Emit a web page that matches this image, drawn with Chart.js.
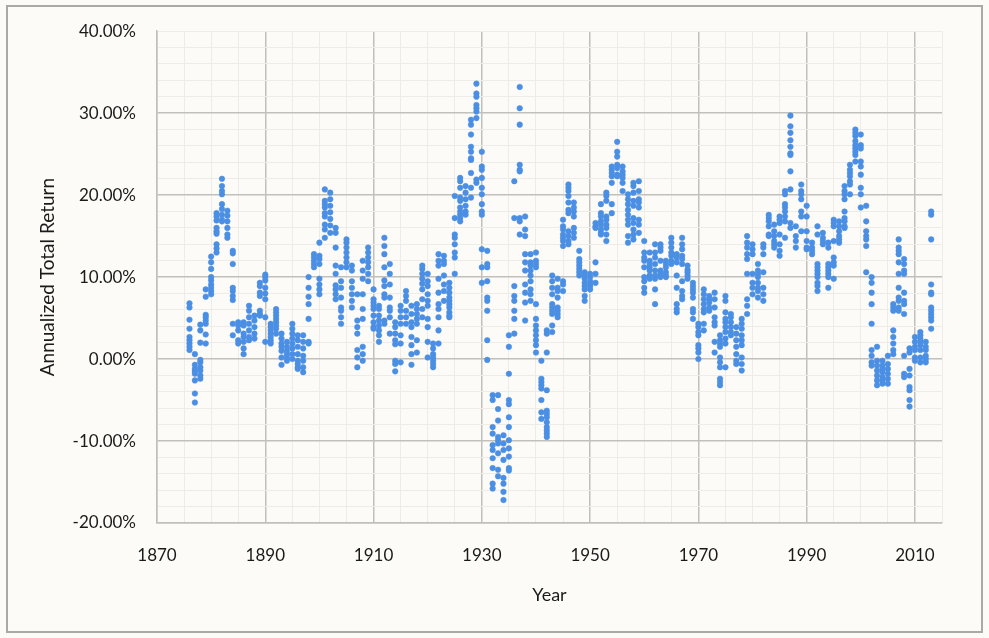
<!DOCTYPE html>
<html>
<head>
<meta charset="utf-8">
<script src="https://cdn.jsdelivr.net/npm/chart.js@4"></script>
<style>
  html, body { margin: 0; padding: 0; background: #fcfbf7; }
  canvas { display: block; }
</style>
</head>
<body>
<canvas id="c" width="989" height="638"></canvas>
<script>
// ---- Data (values in percent) ----
const years = [1876,1877,1878,1879,1880,1881,1882,1883,1884,1885,1886,1887,1888,1889,1890,
1891,1892,1893,1894,1895,1896,1897,1898,1899,1900,1901,1902,1903,1904,1905,1906,1907,1908,1909,
1910,1911,1912,1913,1914,1915,1916,1917,1918,1919,1920,1921,1922,1923,1924,1925,1926,1927,1928,1929,
1930,1931,1932,1933,1934,1935,1936,1937,1938,1939,1940,1941,1942,1943,1944,1945,1946,1947,1948,1949,
1950,1951,1952,1953,1954,1955,1956,1957,1958,1959,1960,1961,1962,1963,1964,1965,1966,1967,1968,1969,
1970,1971,1972,1973,1974,1975,1976,1977,1978,1979,1980,1981,1982,1983,1984,1985,1986,1987,1988,1989,
1990,1991,1992,1993,1994,1995,1996,1997,1998,1999,2000,2001,2002,2003,2004,2005,2006,2007,2008,2009,
2010,2011,2012,2013];

const returns = [
[6.8,6.3,4.8,3.7,2.7,2.3,1.9,1.5,1.1],
[0.6,-0.7,-1.2,-1.5,-1.8,-2.6,-4.2,-5.3],
[4.2,3.5,2.0,-0.1,-0.4,-1.0,-1.4,-2.0,-2.4],
[8.5,7.6,5.4,5.1,4.7,4.3,3.0,1.9],
[12.5,11.8,11.0,10.0,9.6,9.1,8.7,8.3,7.9],
[17.8,17.4,16.9,16.0,15.6,15.3,14.0,13.5,13.0],
[22.0,21.1,20.5,20.1,18.9,18.3,17.6,17.0,16.8],
[18.1,17.5,16.8,16.0,15.2,14.8],
[13.2,12.9,11.6,8.7,8.3,7.7,7.2,4.3,2.9],
[4.5,4.1,3.5,2.3,1.9],
[4.5,4.1,3.1,2.7,2.1,1.3,0.6],
[6.5,5.9,5.1,4.3,3.5,2.7,2.3],
[5.3,4.7,3.9,3.1,2.5],
[9.3,8.9,8.1,7.7,5.9,5.5,5.3],
[10.3,10.0,9.6,8.7,8.0,7.3,5.1,2.1],
[4.3,3.9,3.5,3.1,2.7,2.3,1.9],
[6.1,5.7,5.3,4.9,4.5,4.1,3.7,3.1],
[3.1,2.5,1.9,1.5,1.0,0.2,-0.7],
[2.1,1.5,1.0,0.6,0.2,-0.2],
[4.3,3.7,3.1,2.5,1.9,1.3,0.6,0.0],
[2.9,2.3,1.5,0.6,-0.2,-0.6,-1.0,-1.2],
[2.9,2.1,1.3,0.4,-0.2,-1.0,-1.6],
[10.0,8.7,7.6,6.7,4.9,2.1,1.9],
[12.8,12.4,12.0,11.6,11.2],
[14.2,12.6,12.2,11.6,9.8,9.1,8.5,7.9],
[20.7,19.3,18.9,18.5,17.8,17.4,16.4,15.8,14.8],
[20.3,19.5,18.7,17.9,17.1,16.3,15.4],
[16.0,15.4,13.6,11.4,10.4,9.0,8.5,7.9,7.3],
[11.2,9.5,8.7,7.5,6.3,5.9,5.1,4.3],
[14.6,14.2,13.6,13.0,12.4,11.8,11.2],
[11.4,10.8,9.5,8.7,7.9,7.1,6.3],
[7.9,4.7,3.9,3.1,1.1,0.2,-1.0],
[12.0,10.8,9.8,7.9,6.1,4.9,1.5,0.6,-0.2],
[13.6,13.0,12.4,11.8,11.2,10.4,9.5],
[8.5,7.3,6.9,6.5,6.1,5.3,4.5,3.9,3.7],
[6.5,6.1,5.3,4.7,4.1,3.5,2.9,2.1],
[14.8,13.8,12.8,11.2,9.6,8.9,7.9,7.5,4.7,4.3],
[11.6,10.4,9.1,7.5,6.3,5.9,5.1,3.1],
[4.5,3.9,3.1,2.3,1.8,-0.2,-0.6,-1.5],
[6.5,5.9,5.1,4.3,2.9,1.9,-0.4],
[8.3,7.7,7.1,5.9,5.1,4.3],
[6.5,5.5,4.5,3.9,2.7,1.7,0.6,-0.7],
[6.7,6.1,5.5,4.9,4.3,2.3,0.8],
[11.4,11.0,10.4,9.8,9.2,8.5,7.3,6.1,5.1],
[10.4,9.5,8.9,7.9,7.1,6.5,4.9,3.9,2.1,0.2],
[1.9,1.3,0.6,0.2,-0.2,-0.6,-1.0],
[12.8,12.0,11.4,9.8,8.1,6.7,6.1,5.1,3.5,1.9],
[12.6,12.0,11.6,10.2,9.1,8.3,7.1],
[9.3,8.7,8.1,7.5,7.1,6.7,6.3,5.7,5.3,5.1],
[19.9,17.2,15.2,14.8,14.0,13.0,12.4,10.4],
[22.1,21.7,20.9,19.7,19.3,18.5,18.0,17.6,17.2,16.8],
[21.1,20.3,19.5,18.7,18.0,17.6],
[29.2,28.6,27.4,25.9,25.3,24.5,24.3,22.7,20.9,19.7],
[33.6,32.4,32.0,31.0,30.6,30.2,29.4,21.9,21.5],
[25.3,23.5,23.1,22.1,20.9,20.1,18.9,18.0,17.6,13.4,11.2,9.3],
[13.2,11.6,11.2,9.5,7.5,7.1,5.9,2.3,-0.1],
[-4.4,-5.0,-8.3,-9.1,-10.5,-11.1,-12.1,-13.3,-15.2,-15.8],
[-4.4,-6.1,-7.5,-9.5,-9.9,-10.3,-11.5,-13.5,-14.3],
[-9.3,-10.3,-11.1,-12.3,-14.5,-15.2,-16.2,-17.2],
[2.9,1.5,-1.8,-5.0,-5.5,-7.1,-8.3,-9.9,-10.9,-11.9,-13.3,-13.6],
[21.7,17.2,8.9,7.7,7.1,5.9,4.9,3.1],
[33.2,30.6,28.6,23.7,23.1,22.9,17.2,16.8,15.2],
[17.4,15.8,15.0,12.8,11.8,10.8,9.1,8.1,6.9,4.7],
[12.8,11.8,11.4,10.8,10.2,9.5,8.5,7.9,7.1],
[13.0,12.0,11.6,11.2,6.7,4.9,4.1,3.5,2.9,2.3,1.7,0.8],
[-0.2,-2.4,-2.8,-3.2,-3.6,-5.0,-6.5,-7.3],
[3.5,3.1,0.8,-3.8,-6.3,-6.7,-7.1,-7.7,-8.3,-8.7,-9.1,-9.5],
[10.2,9.5,8.7,7.9,6.7,6.3,5.9,5.5,4.1,3.3],
[9.8,8.7,8.3,7.5,6.3,5.9,5.5,5.1],
[17.0,16.2,15.8,15.2,14.8,14.4,13.8,9.5,9.1,8.3],
[21.3,20.9,20.5,19.9,19.1,18.2,17.8,15.6,15.0,14.4,14.0],
[19.1,18.5,18.0,17.4,16.0,15.4,14.8],
[13.2,12.2,11.8,11.4,11.0,10.6,10.2],
[10.6,10.2,9.8,9.3,8.9,8.5,7.7,7.1],
[10.4,10.0,9.5,9.1,8.9,8.5],
[16.6,16.2,16.0,11.8,10.4,9.3],
[18.9,17.8,17.4,16.8,16.4,15.8,15.4,15.2],
[20.3,19.9,19.3,17.4,17.0,16.4,16.0,15.2,14.4],
[23.5,23.1,22.7,22.3,21.5,18.9,17.8],
[26.5,25.3,24.7,23.7,23.3,22.5,22.3],
[23.5,22.9,22.5,22.1,21.5,20.5],
[20.1,19.5,18.9,18.2,17.6,17.0,16.4,15.0,14.2],
[21.5,21.1,20.3,19.3,18.7,17.2,16.6,15.8,15.2,14.6],
[21.7,20.5,19.5,19.1,18.5,17.0,16.4,15.4],
[14.4,13.0,12.4,12.0,11.2,10.0,9.5,8.7,8.1],
[13.0,12.0,11.6,11.2,10.8,10.2,9.8],
[14.0,13.0,12.4,11.6,10.8,10.2,9.8,8.5,6.7],
[14.0,13.6,13.2,12.0,10.8,10.4,10.0],
[12.0,11.6,11.2,10.6,10.2,10.0],
[14.8,14.2,13.6,13.0,12.6,12.0,11.6],
[12.8,12.4,11.8,10.2,8.7,6.7,6.1,5.7],
[14.8,14.0,13.4,12.6,12.2,11.6,9.5,8.3,7.7,7.3],
[11.4,10.9,10.6,10.2,9.8],
[9.3,8.9,8.5,8.1,7.5,6.1,5.7,4.9],
[4.3,3.9,3.3,2.9,1.7,1.3,0.8,0.0],
[8.5,7.9,7.3,6.7,6.1,5.7,4.3,3.5],
[7.7,7.3,6.9,6.3,5.9],
[8.1,7.3,6.3,5.1,4.5,4.1,2.1,0.8],
[2.9,2.3,1.9,1.5,0.2,-0.4,-1.0,-2.4,-2.8,-3.2],
[7.7,7.1,5.7,4.9,4.5,3.9,3.3,2.5,1.9,-1.0],
[5.5,5.1,4.5,3.9,3.3,2.9],
[3.9,3.1,2.3,1.5,0.6,-0.2,-0.6],
[4.9,4.3,3.7,2.9,2.3,1.7,0.2,-0.6,-1.4],
[15.0,14.2,13.6,12.8,12.2,10.4,7.3,6.5,5.5],
[14.0,13.4,12.8,10.4,9.3,8.7,7.9],
[11.6,10.8,10.4,10.0,9.3,8.7,8.3,7.5],
[14.0,13.6,12.8,10.6,8.7,7.9,7.1],
[17.6,17.2,16.8,16.2,15.2,15.0],
[16.4,15.6,15.0,14.4,14.0,13.6],
[17.4,17.0,16.6,15.2,14.0,13.2,12.6],
[20.5,20.1,18.9,18.5,18.0,17.4,16.8,14.8],
[29.7,28.4,27.6,26.7,25.9,25.1,24.9,22.9,20.7,16.6,16.0],
[16.2,15.0,14.4,13.6],
[21.3,20.5,20.1,19.5,18.0,17.4,15.6],
[18.7,17.4,15.6,14.4,13.6,13.4],
[14.2,13.6,13.2,12.8],
[16.2,15.2,11.6,11.2,10.8,10.4,10.0,9.3,8.9,8.3],
[15.4,14.8,14.4,14.0],
[14.2,13.6,11.6,11.2,10.8,10.4,10.0,8.7],
[17.0,16.6,16.2,14.4,12.4,11.8,11.4,9.8],
[16.8,16.2,15.6,15.0,14.6,14.2],
[21.1,20.5,20.1,19.5,18.0,17.2,16.8,16.2,16.0],
[23.7,23.1,22.7,22.3,21.7,21.3,20.1],
[28.0,27.6,27.2,26.6,26.1,25.7,25.3,24.9,24.1],
[27.4,26.1,25.7,24.1,23.5,22.5,20.9,20.1,18.5],
[18.7,16.8,15.6,15.0,14.6,13.8,10.6],
[10.0,9.3,8.1,6.7,4.3,1.1,0.4,-0.4,-0.8],
[1.5,-0.2,-0.8,-1.4,-2.0,-2.6,-3.2],
[-0.2,-0.8,-1.2,-1.6,-2.2,-2.6,-3.0],
[0.4,-0.6,-1.2,-1.8,-2.4,-3.0],
[6.7,6.3,5.9,3.5,2.7,1.9,1.1,0.6],
[14.6,13.6,13.2,12.8,11.8,10.4,8.7,7.5,7.1,6.3,5.9],
[12.2,11.6,10.8,10.4,8.1,7.1,6.7,5.5,0.4,-1.8,-2.2],
[1.3,0.8,-1.2,-2.0,-3.4,-3.8,-5.0,-5.8],
[2.7,2.1,1.5,1.1,0.2,-0.2],
[3.3,2.9,2.5,2.1,1.7,1.1,0.2,-0.4],
[2.1,1.5,1.1,0.4,0.0,-0.4],
[18.0,17.6,14.6,9.1,8.1,7.9,6.3,5.9,5.5,5.1,4.7,3.7]
];

const yTickLabels = ['-20.00%','-10.00%','0.00%','10.00%','20.00%','30.00%','40.00%'];
const xTickLabels = ['1870','1890','1910','1930','1950','1970','1990','2010'];

// ---- Build points ----
const points = [];
years.forEach((yr, i) => {
  returns[i].forEach(v => points.push({x: yr, y: v}));
});

const BG = '#fcfbf7';
const MAJOR = '#c2c0bb';
const MINOR = '#eeece7';
const TEXT = '#1a1a1a';
const FONT = 'Lato, "Open Sans", "Liberation Sans", sans-serif';

const framePlugin = {
  id: 'frame',
  beforeDraw(chart) {
    const ctx = chart.ctx;
    ctx.save();
    ctx.fillStyle = BG;
    ctx.fillRect(0, 0, chart.width, chart.height);
    ctx.strokeStyle = '#a9a9a7';
    ctx.lineWidth = 2;
    ctx.strokeRect(7, 6, 975, 626);
    ctx.restore();
  }
};

new Chart(document.getElementById('c'), {
  type: 'scatter',
  data: {
    datasets: [{
      data: points,
      backgroundColor: '#4a8fe3',
      borderColor: '#4a8fe3',
      borderWidth: 0.5,
      pointRadius: 2.8,
      pointHoverRadius: 2.8
    }]
  },
  options: {
    responsive: false,
    animation: false,
    events: [],
    layout: { padding: { top: 29, right: 47, bottom: 0, left: 0 } },
    plugins: { legend: { display: false }, tooltip: { enabled: false } },
    scales: {
      x: {
        type: 'linear',
        min: 1870, max: 2015,
        afterFit(scale) { scale.height = 115; },
        grid: {
          drawTicks: false,
          color: c => ((c.tick.value - 1870) % 20 === 0 ? MAJOR : MINOR),
          lineWidth: c => ((c.tick.value - 1870) % 20 === 0 ? 1.5 : 1)
        },
        border: { color: MAJOR, width: 1.5 },
        ticks: {
          stepSize: 5,
          autoSkip: false,
          maxRotation: 0,
          padding: 22,
          color: TEXT,
          font: { family: FONT, size: 17 },
          callback: v => (xTickLabels.includes(String(v)) ? String(v) : '')
        },
        title: {
          display: true,
          text: 'Year',
          color: TEXT,
          font: { family: FONT, size: 18 },
          padding: { top: 0, bottom: 32 }
        }
      },
      y: {
        min: -20, max: 40,
        afterFit(scale) { scale.width = 157; },
        grid: {
          drawTicks: false,
          color: c => (c.tick.value % 10 === 0 && c.tick.value !== 40 ? MAJOR : MINOR),
          lineWidth: c => (c.tick.value % 10 === 0 && c.tick.value !== 40 ? 1.5 : 1)
        },
        border: { color: MAJOR, width: 1.5 },
        ticks: {
          stepSize: 2,
          autoSkip: false,
          padding: 21,
          color: TEXT,
          font: { family: FONT, size: 17 },
          callback: v => {
            const s = v.toFixed(2) + '%';
            return yTickLabels.includes(s) ? s : '';
          }
        },
        title: {
          display: true,
          text: 'Annualized Total Return',
          color: TEXT,
          font: { family: FONT, size: 19 },
          padding: { top: 36, bottom: 0 }
        }
      }
    }
  },
  plugins: [framePlugin]
});
</script>
</body>
</html>
